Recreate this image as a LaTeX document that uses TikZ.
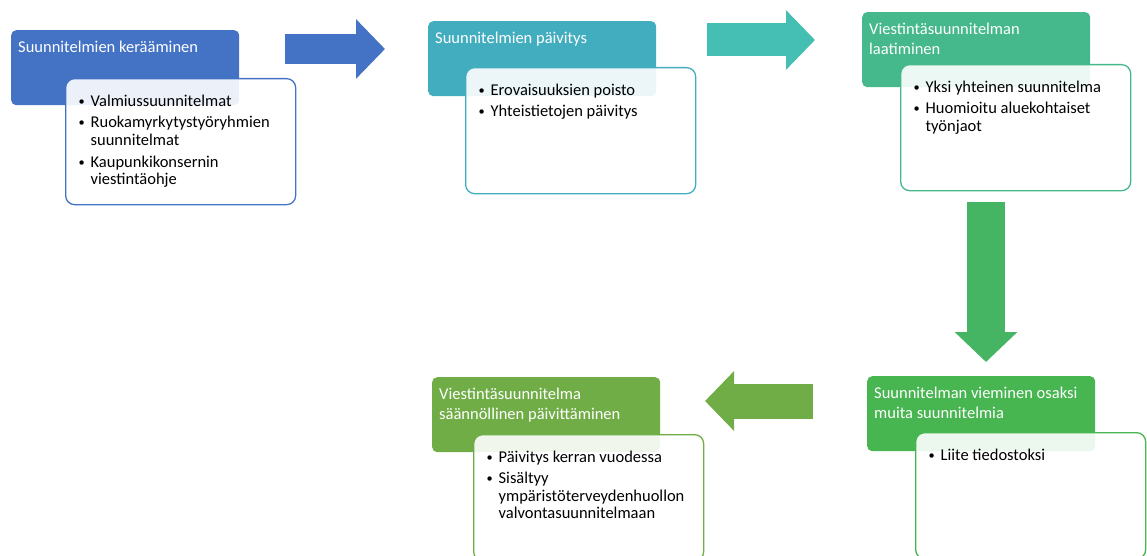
\documentclass[tikz,border=0pt]{standalone}
\usepackage{fontspec}
\setmainfont{Carlito}
\usepackage{xcolor}
\usepackage{tikz}
\usetikzlibrary{arrows.meta,positioning}

\definecolor{stepblue}{HTML}{4472C4}
\definecolor{stepteal}{HTML}{43ADC0}
\definecolor{arrowteal}{HTML}{45BEB4}
\definecolor{stepmint}{HTML}{45B98B}
\definecolor{arrowgreen}{HTML}{46B563}
\definecolor{stepgreen}{HTML}{47B550}
\definecolor{stepolive}{HTML}{70AD47}

\newcommand{\headtext}[1]{\parbox[t][61pt][t]{214pt}{\vspace*{4pt}\raggedright #1}}
\newcommand{\listtext}[1]{\parbox[t][100pt][t]{204pt}{\vspace*{3pt}\raggedright #1}}
\newcommand{\bul}[1]{\par\hangindent=12pt\hangafter=1\noindent\makebox[12pt][l]{\raisebox{1pt}{\scalebox{0.75}{\textbullet}}}#1\par\vspace{4.2pt}}

\begin{document}
\begin{tikzpicture}[
    x=1pt, y=-1pt,
    head/.style={anchor=north west, rounded corners=5pt, inner xsep=7pt, inner ysep=7pt, text=white, font=\fontsize{16.5}{20}\selectfont},
    body/.style={anchor=north west, rounded corners=9pt, fill=white, fill opacity=0.9, text opacity=1, line width=1.3pt, inner xsep=13pt, inner ysep=13pt, font=\fontsize{16.5}{17.5}\selectfont},
    bigarrow/.style={line width=33pt, -{Triangle[length=29pt, width=58pt]}}
]
    \useasboundingbox (0,0) rectangle (1147,556);

    % Step 1: collecting the plans
    \node[head, fill=stepblue] (h1) at (11,30) {\headtext{Suunnitelmien kerääminen}};
    \node[body, draw=stepblue] (b1) at ([shift={(54,48)}]h1.north west) {\listtext{%
        \bul{Valmiussuunnitelmat}
        \bul{Ruokamyrkytystyöryhmien\newline suunnitelmat}
        \bul{Kaupunkikonsernin\newline viestintäohje}}};

    % Step 2: updating the plans
    \node[head, fill=stepteal] (h2) at (428,21) {\headtext{Suunnitelmien päivitys}};
    \node[body, draw=stepteal] (b2) at ([shift={(37,46)}]h2.north west) {\listtext{%
        \bul{Erovaisuuksien poisto}
        \bul{Yhteistietojen päivitys}}};

    % Step 3: drafting the communication plan
    \node[head, fill=stepmint] (h3) at (862,12) {\headtext{Viestintäsuunnitelman\newline laatiminen}};
    \node[body, draw=stepmint] (b3) at ([shift={(38,52)}]h3.north west) {\listtext{%
        \bul{Yksi yhteinen suunnitelma}
        \bul{Huomioitu aluekohtaiset\newline työnjaot}}};

    % Step 4: bringing it into other plans
    \node[head, fill=stepgreen] (h4) at (867,376) {\headtext{Suunnitelman vieminen osaksi\newline muita suunnitelmia}};
    \node[body, draw=stepgreen] (b4) at ([shift={(48,56)}]h4.north west) {\listtext{%
        \bul{Liite tiedostoksi}}};

    % Step 5: regular updating
    \node[head, fill=stepolive] (h5) at (432,377) {\headtext{Viestintäsuunnitelma\newline säännöllinen päivittäminen}};
    \node[body, draw=stepolive] (b5) at ([shift={(41,57)}]h5.north west) {\listtext{%
        \bul{Päivitys kerran vuodessa}
        \bul{Sisältyy\newline ympäristöterveydenhuollon\newline valvontasuunnitelmaan}}};

    % Block arrows between the steps
    \coordinate (a1s) at (285,49);  \coordinate (a1e) at (385,49);
    \coordinate (a2s) at (707,40);  \coordinate (a2e) at (815,40);
    \coordinate (a3s) at (986,202); \coordinate (a3e) at (986,362);
    \coordinate (a4s) at (813,401); \coordinate (a4e) at (705,401);
    \draw[bigarrow, stepblue, line width=30pt] (a1s) -- (a1e);
    \draw[bigarrow, arrowteal] (a2s) -- (a2e);
    \draw[bigarrow, arrowgreen, line width=38pt, -{Triangle[length=30pt, width=61pt]}] (a3s) -- (a3e);
    \draw[bigarrow, stepolive, line width=35pt] (a4s) -- (a4e);
\end{tikzpicture}
\end{document}
